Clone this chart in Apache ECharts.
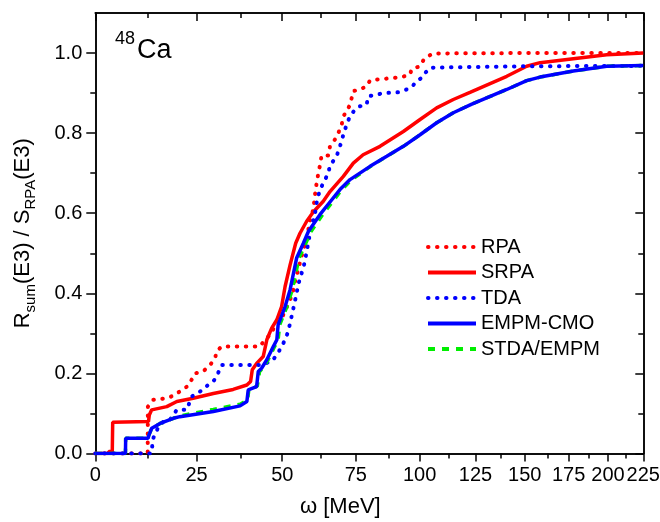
<!DOCTYPE html>
<html><head><meta charset="utf-8">
<script src="https://cdn.jsdelivr.net/npm/echarts@6/dist/echarts.min.js"></script>
<style>html,body{margin:0;padding:0;background:#fff}#c{width:660px;height:522px}</style>
</head><body><div id="c"></div>
<script>
// ---- data (x in MeV, y = cumulative ratio) ----
const xTickValues = [0, 25, 50, 75, 100, 125, 150, 175, 200, 225];
const xTickLabels = ['0', '25', '50', '75', '100', '125', '150', '175', '200', '225'];
const xMinorValues = [12.5, 37.5, 62.5, 87.5, 112.5, 137.5, 162.5, 187.5, 212.5];
const yTickValues = [0, 0.2, 0.4, 0.6, 0.8, 1.0];
const yMinorValues = [0.1, 0.3, 0.5, 0.7, 0.9];
const seriesNames = ['RPA', 'SRPA', 'TDA', 'EMPM-CMO', 'STDA/EMPM'];

const rpaX = [0, 12.4, 12.45, 13.8, 17.2, 19.3, 21.1, 22.8, 24.6, 26.8, 28.7, 30.1, 30.5, 31.9, 43.1, 44.6, 46.7, 47.7, 49.3, 50.3, 51.3, 52.5, 53.6, 54.1, 55.1, 56.8, 57.9, 59.0, 60.1, 60.9, 61.8, 62.4, 62.9, 65.2, 65.8, 67.5, 68.7, 69.9, 70.5, 71.7, 72.9, 73.5, 74.1, 76.5, 79.0, 80.3, 83.3, 92.6, 96.0, 96.7, 100.2, 101.6, 103.0, 105.8, 150, 225];
const rpaY = [0, 0, 0.117, 0.134, 0.138, 0.146, 0.159, 0.169, 0.2, 0.205, 0.221, 0.238, 0.255, 0.267, 0.267, 0.284, 0.3, 0.321, 0.33, 0.346, 0.363, 0.384, 0.409, 0.43, 0.459, 0.509, 0.534, 0.584, 0.609, 0.66, 0.7, 0.721, 0.744, 0.744, 0.767, 0.784, 0.8, 0.821, 0.842, 0.855, 0.871, 0.888, 0.905, 0.909, 0.917, 0.932, 0.934, 0.94, 0.946, 0.96, 0.967, 0.982, 0.99, 0.999, 1.0, 1.0];

const srpaX = [0, 3.0, 3.1, 3.9, 4.0, 12.6, 12.8, 13.4, 17.2, 19.8, 24.1, 29.6, 35.2, 39.2, 40.3, 40.8, 42.1, 44.1, 45.2, 46.7, 48.3, 49.8, 50.9, 52.5, 54.3, 55.7, 57.9, 60.1, 63.5, 65.8, 70.5, 74.1, 77.7, 84.1, 93.3, 100.2, 107.3, 114.7, 122.4, 140.5, 151, 158.4, 177.8, 199.2, 225];
const srpaY = [0, 0, 0.005, 0.005, 0.078, 0.08, 0.096, 0.109, 0.117, 0.13, 0.138, 0.15, 0.16, 0.171, 0.18, 0.209, 0.225, 0.242, 0.284, 0.313, 0.334, 0.367, 0.417, 0.471, 0.525, 0.55, 0.58, 0.603, 0.63, 0.654, 0.692, 0.725, 0.746, 0.767, 0.804, 0.834, 0.863, 0.884, 0.902, 0.942, 0.967, 0.976, 0.986, 0.996, 1.0];

const tdaX = [0, 13.3, 13.5, 13.6, 15.1, 16.4, 18.0, 19.8, 22.4, 23.7, 25.0, 26.8, 28.1, 29.6, 30.5, 31.9, 43.1, 46.7, 48.3, 49.8, 50.9, 51.9, 53.2, 54.6, 55.1, 57.0, 57.5, 58.4, 59.0, 60.7, 61.4, 62.4, 65.2, 65.8, 68.1, 69.3, 70.5, 71.1, 71.9, 72.9, 74.7, 76.5, 79.0, 79.6, 82.8, 85.3, 91.3, 94.6, 96.7, 98.8, 100.9, 102.3, 104.4, 108, 150, 225];
const tdaY = [0, 0, 0.013, 0.034, 0.067, 0.08, 0.084, 0.109, 0.109, 0.142, 0.15, 0.159, 0.171, 0.18, 0.192, 0.221, 0.221, 0.23, 0.246, 0.267, 0.284, 0.305, 0.35, 0.4, 0.421, 0.47, 0.488, 0.525, 0.55, 0.6, 0.634, 0.659, 0.7, 0.719, 0.742, 0.767, 0.796, 0.809, 0.826, 0.842, 0.859, 0.867, 0.871, 0.892, 0.896, 0.9, 0.902, 0.909, 0.915, 0.93, 0.938, 0.95, 0.963, 0.964, 0.967, 0.968];

const cmoX = [0, 7.0, 7.06, 12.5, 12.7, 13.4, 15.5, 18.9, 20.6, 29.6, 37.2, 39.2, 39.6, 42.1, 42.6, 43.6, 45.2, 47.2, 48.3, 48.7, 50.9, 52.5, 54.6, 56.8, 58.5, 62.4, 65.8, 69.3, 72.9, 80.3, 86.7, 93.3, 100.2, 107.3, 114.7, 123, 140.5, 151, 158.4, 177.8, 199.2, 225];
const cmoY = [0, 0, 0.038, 0.038, 0.046, 0.063, 0.075, 0.088, 0.092, 0.105, 0.119, 0.13, 0.159, 0.167, 0.205, 0.213, 0.234, 0.267, 0.284, 0.321, 0.367, 0.409, 0.488, 0.525, 0.555, 0.597, 0.628, 0.659, 0.684, 0.717, 0.742, 0.767, 0.796, 0.826, 0.851, 0.872, 0.909, 0.931, 0.94, 0.955, 0.967, 0.969];

const stdaX = [0, 7.0, 7.06, 12.5, 12.7, 13.4, 15.5, 18.9, 20.6, 29.6, 37.2, 39.4, 39.8, 42.3, 43.0, 44.0, 45.6, 47.6, 48.7, 49.2, 51.5, 53.2, 55.4, 57.6, 59.4, 63.3, 66.6, 70.0, 73.5, 80.5, 86.7, 93.3, 100.2, 107.3, 114.7, 123, 140.5, 151, 158.4, 177.8, 199.2, 225];
const stdaY = [0, 0, 0.038, 0.038, 0.046, 0.063, 0.075, 0.088, 0.094, 0.11, 0.123, 0.133, 0.16, 0.168, 0.205, 0.213, 0.234, 0.267, 0.284, 0.321, 0.367, 0.409, 0.488, 0.525, 0.555, 0.597, 0.628, 0.659, 0.684, 0.717, 0.742, 0.767, 0.796, 0.826, 0.851, 0.872, 0.909, 0.931, 0.94, 0.955, 0.967, 0.969];

// ---- offset-reciprocal x scale (as in the original figure) ----
const XMAX = 225, OFFS = 277;
function T(x) { return x * (XMAX + OFFS) / (XMAX * (x + OFFS)); }
function pts(xs, ys) { return xs.map((x, i) => [T(x), ys[i]]); }

const FF = "'Liberation Sans', Arial, Helvetica, sans-serif";
const BLACK = '#000';
const xMajorU = xTickValues.map(T);
const xMinorU = xMinorValues.map(T);

function xLabel(v) {
  for (let i = 0; i < xMajorU.length; i++) if (Math.abs(xMajorU[i] - v) < 1e-6) return xTickLabels[i];
  return '';
}

const lineAx = { onZero: false, lineStyle: { color: BLACK, width: 1.5 } };
function xAx(pos, vals, len, inside, labels, extra) {
  return Object.assign({
    type: 'value', min: 0, max: 1, position: pos, gridIndex: 0,
    splitLine: { show: false },
    axisLine: lineAx,
    axisTick: { show: true, customValues: vals, length: len, inside: inside, lineStyle: { color: BLACK, width: 1.5 } },
    axisLabel: labels ? { show: true, customValues: vals, formatter: xLabel, fontSize: 20, color: BLACK, fontFamily: FF, margin: 12 } : { show: false }
  }, extra || {});
}
function yAx(pos, vals, len, inside, labels, extra) {
  return Object.assign({
    type: 'value', min: 0, max: 1.1, position: pos, gridIndex: 0,
    splitLine: { show: false },
    axisLine: lineAx,
    axisTick: { show: true, customValues: vals, length: len, inside: inside, lineStyle: { color: BLACK, width: 1.5 } },
    axisLabel: labels ? { show: true, customValues: vals, formatter: v => v.toFixed(1), fontSize: 20, color: BLACK, fontFamily: FF, margin: 13 } : { show: false }
  }, extra || {});
}

const chart = echarts.init(document.getElementById('c'), null, { renderer: 'canvas' });
chart.setOption({
  animation: false,
  backgroundColor: '#fff',
  title: {
    text: '{a|48}{b|Ca}', left: 115, top: 30, padding: 0,
    textStyle: { fontWeight: 'normal', rich: {
      a: { fontSize: 18, fontWeight: 'normal', fontFamily: FF, color: BLACK, verticalAlign: 'top', padding: [0, 2, 0, 0] },
      b: { fontSize: 27, fontWeight: 'normal', fontFamily: FF, color: BLACK, padding: [7, 0, 0, 0] }
    } }
  },
  grid: { left: 95.3, right: 16.7, top: 13, bottom: 68.5, containLabel: false, outerBoundsMode: 'none' },
  legend: {
    orient: 'vertical', left: 426, top: 237, padding: 0, itemWidth: 48, itemHeight: 14, itemGap: 5.5,
    data: seriesNames,
    itemStyle: { opacity: 0 },
    lineStyle: { width: 4 },
    textStyle: { fontSize: 20, fontFamily: FF, color: BLACK }
  },
  xAxis: [
    xAx('bottom', xMajorU, 8, false, true, {
      name: 'ω [MeV]', nameLocation: 'middle', nameGap: 42,
      nameTextStyle: { fontSize: 22, fontFamily: FF, color: BLACK, padding: [0, 58, 0, 0] }
    }),
    xAx('bottom', xMinorU, 5, false, false),
    xAx('top', xMajorU, 8, true, false),
    xAx('top', xMinorU, 5, true, false)
  ],
  yAxis: [
    yAx('left', yTickValues, 9, false, true, {
      name: '{m|R}{s|sum}{m|(E3) / S}{s|RPA}{m|(E3)}', nameLocation: 'middle', nameRotate: 90, nameGap: 57,
      nameTextStyle: { rich: {
        m: { fontSize: 22, fontFamily: FF, color: BLACK, verticalAlign: 'top' },
        s: { fontSize: 15, fontFamily: FF, color: BLACK, padding: [11, 0, 0, 0] }
      } }
    }),
    yAx('left', yMinorValues, 5, false, false),
    yAx('right', yTickValues, 8, true, false),
    yAx('right', yMinorValues, 5, true, false)
  ],
  series: [
    { name: 'RPA', type: 'line', data: pts(rpaX, rpaY), showSymbol: false, symbol: 'none',
      lineStyle: { color: '#ff0000', width: 4, type: [0.5, 8.5], cap: 'round' }, itemStyle: { color: '#ff0000' } },
    { name: 'SRPA', type: 'line', data: pts(srpaX, srpaY), showSymbol: false, symbol: 'none',
      lineStyle: { color: '#ff0000', width: 3.5 }, itemStyle: { color: '#ff0000' } },
    { name: 'TDA', type: 'line', data: pts(tdaX, tdaY), showSymbol: false, symbol: 'none',
      lineStyle: { color: '#0000ff', width: 4, type: [0.5, 8.5], cap: 'round' }, itemStyle: { color: '#0000ff' } },
    { name: 'STDA/EMPM', type: 'line', data: pts(stdaX, stdaY), showSymbol: false, symbol: 'none',
      lineStyle: { color: '#00ee00', width: 3.5, type: [7, 7] }, itemStyle: { color: '#00ee00' } },
    { name: 'EMPM-CMO', type: 'line', data: pts(cmoX, cmoY), showSymbol: false, symbol: 'none',
      lineStyle: { color: '#0000ff', width: 3.5 }, itemStyle: { color: '#0000ff' } }
  ]
});
</script>
</body></html>
